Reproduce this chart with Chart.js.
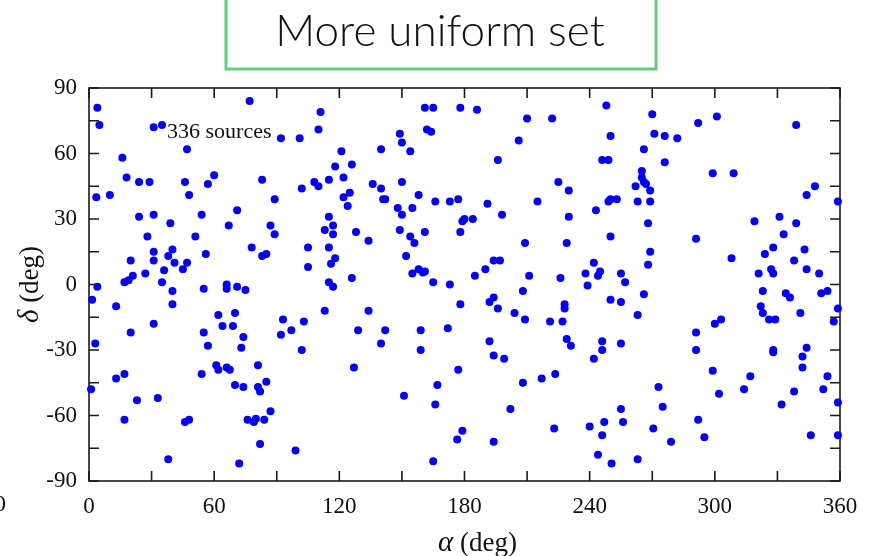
<!DOCTYPE html>
<html>
<head>
<meta charset="utf-8">
<script src="https://cdn.jsdelivr.net/npm/chart.js@4.4.1/dist/chart.umd.min.js"></script>
<style>
  html, body { margin: 0; padding: 0; background: #fff; }
  #wrap { position: relative; width: 870px; height: 556px; }
</style>
</head>
<body>
<div id="wrap"><canvas id="skyChart" width="870" height="556"></canvas></div>
<script>
// right ascension (alpha) and declination (delta) of each source, in degrees
const alphaDeg = [
  4, 5, 77, 31, 35, 47, 16, 18, 24, 29, 46, 48, 57, 60, 83, 89, 3.5, 10, 24, 31, 54, 71,
  92, 101, 111, 110, 121, 118, 126, 115, 122, 108, 110, 102, 122, 125, 124, 115, 136, 140, 150, 141,
  142, 148, 150, 155, 158, 166, 173, 177, 140, 149, 150, 154, 161, 165, 178, 162, 164,
  186, 210, 222, 206, 196, 248, 250, 266, 246, 249, 270, 225, 230, 265, 265, 266, 267, 262, 269, 191,
  215, 249, 250, 253, 263, 269, 198, 184, 180, 230, 243,
  271, 276, 282, 292, 301, 339, 276, 299, 309, 344, 348, 359, 319, 331,
  39, 67, 87, 89, 28, 51, 31, 40, 20, 31, 38, 41, 56, 78, 83, 85, 27, 36, 45, 47, 17, 19, 21, 35,
  4, 40, 55, 66, 66, 71, 75, 1.5, 13, 40, 62, 70, 64, 69, 31, 20, 55, 74, 3, 57, 73,
  117, 113, 117, 128, 134, 105, 115, 118, 116, 105, 115, 117, 126, 149, 154, 161, 156, 152, 158, 161,
  160, 155, 165, 173, 178, 179, 178, 113, 134, 93, 103, 97, 92, 129, 142, 159, 172, 140, 102, 159,
  209, 229, 250, 268, 269, 268, 194, 197, 190, 185, 211, 208, 226, 242, 238, 244, 245, 239, 255, 257,
  266, 250, 255, 263, 194, 192, 196, 204, 209, 228, 228, 221, 227, 192, 229, 231, 246, 255, 246,
  291, 308, 339, 333, 328, 324, 343, 338, 327, 328, 321, 344, 350, 323, 334, 336, 351, 354, 322, 323,
  341, 326, 329, 359, 357, 303, 300, 291, 291, 328, 344,
  13, 17, 1, 23, 33, 17, 54, 61, 62, 66, 67.5, 70, 74, 81, 81, 82, 85, 87, 46, 48, 76, 79, 80, 84, 82, 38, 72,
  127, 177, 167, 151, 166, 99, 165, 179, 176.5, 194, 199, 242, 208, 217, 223.5, 202, 194, 223, 240, 247,
  246, 255, 256, 244, 250.5, 263,
  273, 275, 270.5, 279, 299, 302, 292, 295, 314, 317, 328, 332, 338, 342, 342, 354, 352, 359, 346, 359
];
const deltaDeg = [
  81, 73, 84, 72, 73, 62, 58, 49, 47, 47, 47, 41, 46, 50, 48, 39, 40, 41, 31, 32, 32, 34,
  67, 67, 79, 71, 61, 54, 55, 48, 49, 47, 45, 44, 40, 42, 36, 31, 46, 44, 47, 39,
  39, 35, 32, 35, 41, 38, 38, 39, 62, 69, 65, 61, 81, 81, 81, 71, 70,
  80, 76, 76, 66, 57, 82, 68, 62, 57, 57, 78, 47, 43, 52, 49, 47, 46, 45, 43, 37,
  38, 38, 39, 39, 38, 38, 32, 30, 30, 31, 34,
  69, 68, 67, 74, 77, 73, 56, 51, 51, 41, 45, 38, 29, 31,
  28, 27, 27, 23, 22, 22, 15, 16, 11, 11, 13, 10, 14, 17, 13, 14, 5, 6.5, 7, 10, 1, 2, 4, 1,
  -1, -3, -2, 0, -2, -1, -2.5, -7, -10, -9, -14, -13, -19, -19, -18, -22, -22, -24, -27, -28, -29,
  27, 25, 23, 24, 20, 17, 17, 12, 9.5, 8, 1, -1, 3, 25, 22, 24, 19, 13, 7, 6,
  5.5, 5, 1, 0, 24, 29, -9, -12, -12, -16, -17, -21, -23, -21, -21, -21, -20, -27, -30, -30,
  19, 19, 22, 28, 15, 9, 11, 11, 7, 4, 4, -3, 3, 10, 5, 4, 6, -0.5, 5, 1,
  -4.5, -7, -8, -14, -6, -8, -11, -13, -16, -9, -11, -17, -17, -26, -25, -28, -26, -27, -30,
  21, 12, 28, 23, 17, 14, 16, 11, 7, 5, 5, 7, 5, -3, -4, -6, -4, -3, -10, -13,
  -13, -16, -16, -11, -17, -16, -18, -22, -30, -30, -29,
  -43, -41, -48, -53, -52, -62, -41, -37, -39, -38, -39, -46, -47, -37, -47, -49, -44.5, -58, -63, -62, -62, -63, -61.5, -62, -73, -80, -82,
  -38, -39, -46, -51, -55, -76, -81, -67, -71, -32.5, -34, -34, -45, -43, -41, -57, -72, -66, -65, -63,
  -69, -57, -63, -78, -82, -80,
  -47, -56, -66, -72, -39.5, -50, -62, -70, -48, -42, -31, -55, -49, -33, -38, -42, -48, -54, -69, -69
];

const xTicks = [0, 60, 120, 180, 240, 300, 360];
const yTicks = [-90, -60, -30, 0, 30, 60, 90];
const xMinorStep = 30;
const yMinorStep = 15;
const titleText = 'More uniform set';
const noteText = '336 sources';
const notePos = { x: 37.4, y: 69.6 };

const points = alphaDeg.map((a, i) => ({ x: a, y: deltaDeg[i] }));

const serif = '"Liberation Serif", "Times New Roman", serif';

// box with inward ticks on all four sides
const framePlugin = {
  id: 'frame',
  beforeDatasetsDraw(chart) {
    const { ctx, chartArea: ca, scales } = chart;
    const tl = 10;
    ctx.save();
    ctx.strokeStyle = '#1a1a1a';
    ctx.lineWidth = 1.6;
    ctx.strokeRect(ca.left, ca.top, ca.right - ca.left, ca.bottom - ca.top);
    ctx.beginPath();
    for (let v = 0; v <= 360; v += xMinorStep) {
      const px = scales.x.getPixelForValue(v);
      ctx.moveTo(px, ca.bottom); ctx.lineTo(px, ca.bottom - tl);
      ctx.moveTo(px, ca.top); ctx.lineTo(px, ca.top + tl);
    }
    for (let v = -90; v <= 90; v += yMinorStep) {
      const py = scales.y.getPixelForValue(v);
      ctx.moveTo(ca.left, py); ctx.lineTo(ca.left + tl, py);
      ctx.moveTo(ca.right, py); ctx.lineTo(ca.right - tl, py);
    }
    ctx.stroke();
    ctx.restore();
  },
  afterDraw(chart) {
    const { ctx, chartArea: ca, scales } = chart;
    ctx.save();
    // annotation
    ctx.fillStyle = '#111';
    ctx.font = '22px ' + serif;
    ctx.textAlign = 'left';
    ctx.textBaseline = 'middle';
    ctx.fillText(noteText, scales.x.getPixelForValue(notePos.x), scales.y.getPixelForValue(notePos.y));

    // x axis title: italic alpha + (deg)
    const cx = (ca.left + ca.right) / 2;
    ctx.textBaseline = 'alphabetic';
    ctx.font = 'italic 29px ' + serif;
    const aW = ctx.measureText('\u03b1').width;
    ctx.font = '27px ' + serif;
    const rW = ctx.measureText(' (deg)').width;
    let x0 = cx - (aW + rW) / 2 + 13;
    ctx.font = 'italic 29px ' + serif;
    ctx.fillText('\u03b1', x0, 551);
    ctx.font = '27px ' + serif;
    ctx.fillText(' (deg)', x0 + aW, 551);

    // y axis title, rotated
    ctx.translate(38, (ca.top + ca.bottom) / 2);
    ctx.rotate(-Math.PI / 2);
    ctx.font = 'italic 29px ' + serif;
    const dW = ctx.measureText('\u03b4').width;
    x0 = -(dW + rW) / 2;
    ctx.fillText('\u03b4', x0, 0);
    ctx.font = '27px ' + serif;
    ctx.fillText(' (deg)', x0 + dW, 0);
    ctx.restore();

    // title box
    ctx.save();
    ctx.strokeStyle = '#62cf74';
    ctx.lineWidth = 3;
    ctx.strokeRect(226, -10, 430, 79);
    ctx.fillStyle = '#111';
    ctx.font = '300 44px Lato, "Open Sans", sans-serif';
    ctx.textAlign = 'center';
    ctx.textBaseline = 'middle';
    ctx.fillText(titleText, 440, 32);
    // leftover tick label from the neighbouring panel
    ctx.font = '24px ' + serif;
    ctx.fillText('0', 0, 505);
    ctx.restore();
  }
};

new Chart(document.getElementById('skyChart'), {
  type: 'scatter',
  data: {
    datasets: [{
      data: points,
      backgroundColor: '#0000ff',
      borderWidth: 0,
      pointRadius: 4,
      clip: false
    }]
  },
  options: {
    responsive: false,
    animation: false,
    devicePixelRatio: 1,
    layout: {
      autoPadding: false,
      padding: { top: 88, right: 30, left: 0, bottom: 0 }
    },
    plugins: {
      legend: false,
      tooltip: { enabled: false }
    },
    scales: {
      x: {
        type: 'linear',
        min: 0,
        max: 360,
        afterBuildTicks: (scale) => { scale.ticks = xTicks.map(v => ({ value: v })); },
        afterFit: (scale) => { scale.height = 75; },
        grid: { display: false, drawTicks: false },
        border: { display: false },
        ticks: {
          padding: 12,
          color: '#111',
          font: { family: serif, size: 23 }
        }
      },
      y: {
        type: 'linear',
        min: -90,
        max: 90,
        afterBuildTicks: (scale) => { scale.ticks = yTicks.map(v => ({ value: v })); },
        afterFit: (scale) => { scale.width = 89; },
        grid: { display: false, drawTicks: false },
        border: { display: false },
        ticks: {
          padding: 12,
          color: '#111',
          font: { family: serif, size: 23 }
        }
      }
    }
  },
  plugins: [framePlugin]
});
</script>
</body>
</html>
